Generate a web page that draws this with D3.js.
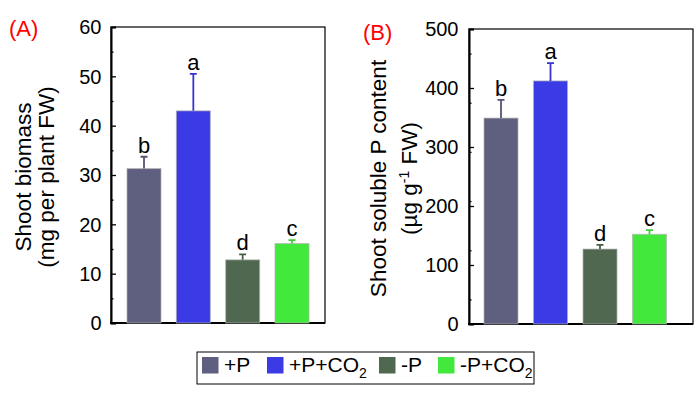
<!DOCTYPE html>
<html>
<head>
<meta charset="utf-8">
<title>Shoot biomass and soluble P</title>
<script src="https://d3js.org/d3.v7.min.js"></script>
<style>
  body { margin: 0; background: #fff; }
  svg text { font-family: "Liberation Sans", Arial, sans-serif; fill: #000; }
</style>
</head>
<body>
<svg id="chart" width="700" height="395"></svg>
<script>
// treatments
const groups = ["+P", "+P+CO2", "-P", "-P+CO2"];
const colors = ["#5f5f7f", "#3b3be6", "#506850", "#42e83c"];

// panel A: shoot biomass (mg per plant FW)
const biomass = [31.3, 43.0, 12.8, 16.1];
const biomassErr = [2.4, 7.5, 1.1, 0.7];
const biomassLetters = ["b", "a", "d", "c"];
const biomassTicks = [0, 10, 20, 30, 40, 50, 60];

// panel B: shoot soluble P content (ug g-1 FW)
const solubleP = [349, 412, 127, 152];
const solublePErr = [31, 30, 7, 7];
const solublePLetters = ["b", "a", "d", "c"];
const solublePTicks = [0, 100, 200, 300, 400, 500];

const svg = d3.select("#chart");

let drawPanel = function(p) {
    const g = svg.append("g");

    let y = d3.scaleLinear().domain([0, p.max]).range([p.bottom, p.top]);
    let x = d3.scalePoint().domain(groups).range([p.left + p.padL, p.right - p.padR]);
    const bw = 34;

    // frame
    g.append("rect")
        .attr("x", p.left).attr("y", p.top)
        .attr("width", p.right - p.left).attr("height", p.bottom - p.top)
        .attr("fill", "none").attr("stroke", "#000").attr("stroke-width", 1.2);

    // left axis, ticks point inward
    let axis = g.append("g").attr("transform", "translate(" + p.left + ",0)")
        .call(d3.axisRight(y).tickValues(p.ticks).tickSize(5).tickFormat(""));
    axis.select(".domain").attr("stroke-width", 2);
    let minor = d3.range(p.max / 12, p.max, p.max / 6);
    g.append("g").attr("transform", "translate(" + p.left + ",0)")
        .call(d3.axisRight(y).tickValues(minor).tickSize(2.5).tickFormat(""))
        .select(".domain").remove();
    g.selectAll(".tick line").attr("stroke-width", 1.3);

    // tick labels
    g.selectAll(".ylab").data(p.ticks).enter().append("text")
        .attr("x", p.left - p.labGap)
        .attr("y", d => y(d))
        .attr("dy", "0.36em")
        .attr("text-anchor", "end")
        .attr("font-size", 20)
        .text(d => d);

    // bottom axis line
    g.append("line")
        .attr("x1", p.left - 1).attr("x2", p.right)
        .attr("y1", p.bottom).attr("y2", p.bottom)
        .attr("stroke", "#000").attr("stroke-width", 2);

    // bars
    g.selectAll(".bar").data(p.values).enter().append("rect")
        .attr("x", (d, i) => x(groups[i]) - bw / 2)
        .attr("y", d => y(d))
        .attr("width", bw)
        .attr("height", d => p.bottom - y(d))
        .attr("fill", (d, i) => colors[i])
        .attr("stroke", "#b0b0b0").attr("stroke-opacity", 0.7).attr("stroke-width", 1);

    // error bars, upward only
    g.selectAll(".err").data(p.values).enter().append("path")
        .attr("d", (d, i) => {
            let cx = x(groups[i]), top = y(d + p.err[i]);
            return "M" + cx + "," + y(d) + "V" + top + "M" + (cx - 3.5) + "," + top + "H" + (cx + 3.5);
        })
        .attr("fill", "none")
        .attr("stroke", (d, i) => d3.color(colors[i]).darker(0.3))
        .attr("stroke-width", 1.8);

    // significance letters
    g.selectAll(".sig").data(p.values).enter().append("text")
        .attr("x", (d, i) => x(groups[i]))
        .attr("y", (d, i) => y(d + p.err[i]) - 4)
        .attr("text-anchor", "middle")
        .attr("font-size", 22)
        .text((d, i) => p.letters[i]);

    // y title, two lines
    let cy = (p.top + p.bottom) / 2 + 2;
    p.title.forEach(function(t, k) {
        let txt = g.append("text")
            .attr("transform", "translate(" + (p.titleX + k * p.lineGap) + "," + cy + ") rotate(-90)")
            .attr("text-anchor", "middle")
            .attr("font-size", 22.5);
        t.forEach(function(part) {
            txt.append("tspan")
                .attr("baseline-shift", part.sup ? "super" : null)
                .attr("font-size", part.sup ? 14 : null)
                .text(part.s);
        });
    });

    // panel tag
    g.append("text")
        .attr("x", p.tagX).attr("y", p.tagY)
        .attr("font-size", 22)
        .style("fill", "#ff0000")
        .text(p.tag);
};

drawPanel({
    left: 111, right: 325, top: 27, bottom: 323, padL: 33, padR: 33, labGap: 9.5,
    max: 60, ticks: biomassTicks, values: biomass, err: biomassErr, letters: biomassLetters,
    title: [[{s: "Shoot biomass"}], [{s: "(mg per plant FW)"}]],
    titleX: 30.5, lineGap: 23.5, tag: "(A)", tagX: 9, tagY: 36
});

drawPanel({
    left: 469, right: 693, top: 29, bottom: 324, padL: 32, padR: 43.5, labGap: 10.5,
    max: 500, ticks: solublePTicks, values: solubleP, err: solublePErr, letters: solublePLetters,
    title: [[{s: "Shoot soluble P content"}], [{s: "(\u00b5g g"}, {s: "-1", sup: true}, {s: " FW)"}]],
    titleX: 386, lineGap: 31, tag: "(B)", tagX: 363, tagY: 40
});

// legend
const legend = svg.append("g");
legend.append("rect")
    .attr("x", 197).attr("y", 352).attr("width", 337).attr("height", 32)
    .attr("fill", "#fff").attr("stroke", "#000").attr("stroke-width", 1);

const legendX = [202, 267, 379, 438];
groups.forEach(function(name, i) {
    legend.append("rect")
        .attr("x", legendX[i]).attr("y", 357)
        .attr("width", 16.5).attr("height", 16.5)
        .attr("fill", colors[i]);
    let t = legend.append("text")
        .attr("x", legendX[i] + 22).attr("y", 372)
        .attr("font-size", 21);
    let m = name.match(/^(.*CO)2$/);
    if (m) {
        t.append("tspan").text(m[1]);
        t.append("tspan").attr("dy", 6).attr("font-size", 14).text("2");
    } else {
        t.text(name);
    }
});
</script>
</body>
</html>
